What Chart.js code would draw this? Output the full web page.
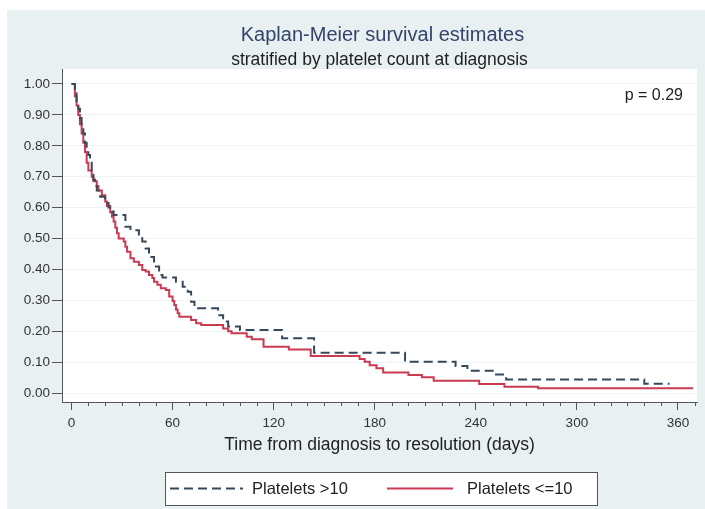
<!DOCTYPE html>
<html>
<head>
<meta charset="utf-8">
<script src="https://cdn.jsdelivr.net/npm/chart.js@4.4.1/dist/chart.umd.min.js"></script>
<style>
  html, body { margin: 0; padding: 0; background: #fff; }
  canvas { display: block; }
</style>
</head>
<body>
<canvas id="kmChart" width="705" height="509"></canvas>
<script>
// Kaplan-Meier step values (day of drop, survival after drop)
const highDays = [0, 2, 3, 4, 5, 6, 7, 8, 9, 10, 11, 12, 13, 14, 15, 17, 20, 22, 24, 25, 32, 35, 40, 42, 44, 46, 49, 52, 54, 62, 66, 69, 71, 73, 87, 90, 93, 100, 125, 144, 198, 228, 235, 251, 258, 340, 355];
const highSurv = [1.00, 0.97, 0.94, 0.92, 0.89, 0.86, 0.84, 0.81, 0.79, 0.77, 0.75, 0.72, 0.69, 0.67, 0.655, 0.635, 0.615, 0.60, 0.587, 0.576, 0.538, 0.527, 0.506, 0.49, 0.468, 0.44, 0.409, 0.382, 0.374, 0.36, 0.344, 0.328, 0.295, 0.274, 0.252, 0.231, 0.215, 0.204, 0.177, 0.13, 0.101, 0.087, 0.072, 0.06, 0.044, 0.03, 0.03];

const lowDays = [0, 2, 3, 4, 5, 6, 7, 8, 9, 10, 12, 13, 15, 16, 18, 20, 21, 23, 24, 25, 26, 27, 28, 31, 32, 33, 35, 37, 40, 42, 44, 46, 48, 49, 51, 53, 56, 58, 60, 61, 62, 63, 64, 71, 74, 77, 90, 93, 95, 104, 107, 114, 129, 142, 171, 174, 177, 181, 185, 200, 208, 215, 242, 257, 277, 369];
const lowSurv = [1.00, 0.96, 0.93, 0.90, 0.87, 0.84, 0.81, 0.78, 0.745, 0.72, 0.70, 0.685, 0.67, 0.655, 0.64, 0.62, 0.605, 0.585, 0.57, 0.555, 0.535, 0.517, 0.50, 0.49, 0.473, 0.457, 0.436, 0.425, 0.414, 0.398, 0.393, 0.382, 0.372, 0.36, 0.35, 0.339, 0.333, 0.312, 0.298, 0.285, 0.27, 0.258, 0.247, 0.236, 0.226, 0.22, 0.209, 0.2, 0.193, 0.182, 0.174, 0.15, 0.141, 0.12, 0.11, 0.101, 0.09, 0.08, 0.066, 0.058, 0.051, 0.04, 0.029, 0.02, 0.015, 0.015];

const seriesLabels = ['Platelets >10', 'Platelets <=10'];
const yTicks = [0, 0.1, 0.2, 0.3, 0.4, 0.5, 0.6, 0.7, 0.8, 0.9, 1.0];
const xTicks = [0, 10, 20, 30, 40, 50, 60, 70, 80, 90, 100, 110, 120, 130, 140, 150, 160, 170, 180, 190, 200, 210, 220, 230, 240, 250, 260, 270, 280, 290, 300, 310, 320, 330, 340, 350, 360, 370];
const xLabelled = [0, 60, 120, 180, 240, 300, 360];

const titleText = 'Kaplan-Meier survival estimates';
const subtitleText = 'stratified by platelet count at diagnosis';
const pText = 'p = 0.29';
const xTitle = 'Time from diagnosis to resolution (days)';

const FONT = '"Liberation Sans", Arial, Helvetica, sans-serif';

function toPoints(xs, ys) {
  return xs.map((x, i) => ({ x: x, y: ys[i] }));
}

const backdrop = {
  id: 'backdrop',
  beforeDraw(chart) {
    const { ctx, chartArea: a } = chart;
    ctx.save();
    ctx.fillStyle = '#ffffff';
    ctx.fillRect(0, 0, chart.width, chart.height);
    ctx.fillStyle = '#e8f0f1';
    ctx.fillRect(7, 10, chart.width - 7, chart.height - 10);
    ctx.fillStyle = '#ffffff';
    ctx.fillRect(a.left, a.top, a.right - a.left, a.bottom - a.top);
    ctx.restore();
  }
};

const extras = {
  id: 'extras',
  afterDraw(chart) {
    const { ctx, chartArea: a } = chart;
    const xs = chart.scales.x;
    ctx.save();

    // minor ticks on x axis
    ctx.strokeStyle = '#555';
    ctx.lineWidth = 1;
    xTicks.forEach(v => {
      if (xLabelled.includes(v)) return;
      const px = Math.round(xs.getPixelForValue(v)) + 0.5;
      ctx.beginPath();
      ctx.moveTo(px, a.bottom);
      ctx.lineTo(px, a.bottom + 4);
      ctx.stroke();
    });

    // titles
    const cx = (a.left + a.right) / 2;
    ctx.textAlign = 'center';
    ctx.textBaseline = 'middle';
    ctx.fillStyle = '#34456a';
    ctx.font = '20px ' + FONT;
    ctx.fillText(titleText, cx + 3, 35);
    ctx.fillStyle = '#1e1e1e';
    ctx.font = '17.5px ' + FONT;
    ctx.fillText(subtitleText, cx, 60);

    // p value
    ctx.textAlign = 'right';
    ctx.fillStyle = '#222';
    ctx.font = '16px ' + FONT;
    ctx.fillText(pText, 683, 96);

    // legend box
    const bx = 165, by = 472, bw = 432, bh = 33, ly = by + bh / 2;
    ctx.fillStyle = '#ffffff';
    ctx.fillRect(bx, by, bw, bh);
    ctx.strokeStyle = '#555';
    ctx.lineWidth = 1;
    ctx.strokeRect(bx + 0.5, by + 0.5, bw, bh);

    const items = [
      { x0: 170, x1: 243, tx: 252 },
      { x0: 387, x1: 453, tx: 467 }
    ];
    chart.data.datasets.forEach((ds, i) => {
      const it = items[i];
      ctx.strokeStyle = ds.borderColor;
      ctx.lineWidth = ds.borderWidth;
      ctx.setLineDash(ds.borderDash || []);
      ctx.beginPath();
      ctx.moveTo(it.x0, ly);
      ctx.lineTo(it.x1, ly);
      ctx.stroke();
      ctx.setLineDash([]);
      ctx.textAlign = 'left';
      ctx.fillStyle = '#222';
      ctx.font = '16.5px ' + FONT;
      ctx.fillText(ds.label, it.tx, ly + 1);
    });

    ctx.restore();
  }
};

new Chart('kmChart', {
  type: 'line',
  data: {
    datasets: [
      {
        label: seriesLabels[0],
        data: toPoints(highDays, highSurv),
        borderColor: '#36495a',
        borderWidth: 2,
        borderDash: [9, 5],
        stepped: 'before',
        pointRadius: 0,
        fill: false
      },
      {
        label: seriesLabels[1],
        data: toPoints(lowDays, lowSurv),
        borderColor: '#c93a53',
        borderWidth: 2,
        stepped: 'before',
        pointRadius: 0,
        fill: false
      }
    ]
  },
  options: {
    responsive: false,
    animation: false,
    devicePixelRatio: 1,
    layout: { padding: { top: 69, right: 8, left: 0, bottom: 0 } },
    plugins: {
      legend: { display: false },
      tooltip: { enabled: false },
      title: { display: false }
    },
    scales: {
      x: {
        type: 'linear',
        min: -5.64,
        max: 371.3,
        afterFit: s => { s.height = 107; },
        afterBuildTicks: s => { s.ticks = xTicks.map(v => ({ value: v })); },
        grid: {
          drawOnChartArea: false,
          tickLength: 8,
          tickColor: c => (xLabelled.includes(c.tick.value) ? '#555' : 'rgba(0,0,0,0)')
        },
        border: { display: true, color: '#555', width: 1 },
        ticks: {
          autoSkip: false,
          maxRotation: 0,
          padding: 5,
          color: '#333',
          font: { family: FONT, size: 13.5 },
          callback: v => (xLabelled.includes(v) ? String(v) : '')
        },
        title: {
          display: true,
          text: xTitle,
          color: '#222',
          font: { family: FONT, size: 17.5 },
          padding: { top: 0, bottom: 53 }
        }
      },
      y: {
        min: -0.0291,
        max: 1.0485,
        afterFit: s => { s.width = 62; },
        afterBuildTicks: s => { s.ticks = yTicks.map(v => ({ value: v })); },
        grid: {
          color: '#eef4f5',
          tickColor: '#555',
          tickLength: 10
        },
        border: { display: true, color: '#555', width: 1 },
        ticks: {
          padding: 2,
          color: '#333',
          font: { family: FONT, size: 13.5 },
          callback: v => v.toFixed(2)
        }
      }
    }
  },
  plugins: [backdrop, extras]
});
</script>
</body>
</html>
